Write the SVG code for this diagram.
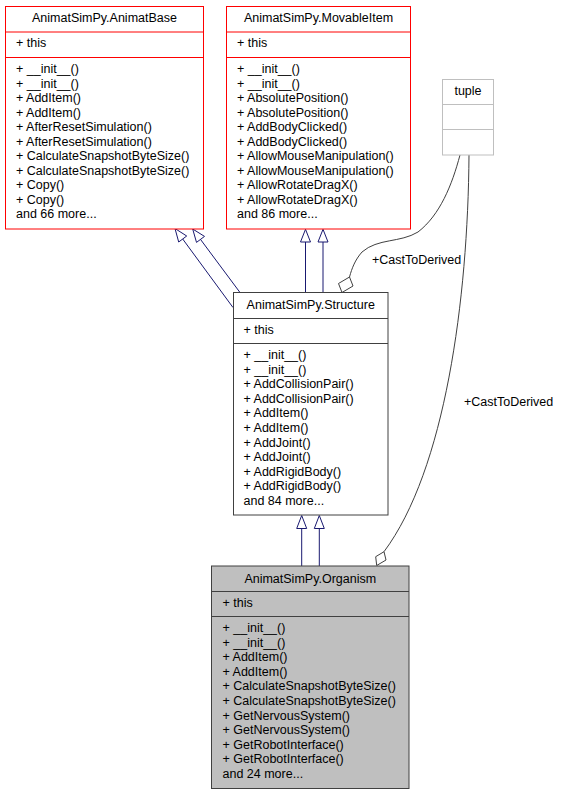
<svg xmlns="http://www.w3.org/2000/svg" width="561" height="795" viewBox="0 0 561 795">
<style>
text{font-family:"Liberation Sans",Arial,sans-serif;font-size:12.5px;fill:#000}
.t{text-anchor:middle}
.red{fill:#fff;stroke:#ff0000;stroke-width:1}
.dk{fill:#fff;stroke:#404040;stroke-width:1}
.cur{fill:#bfbfbf;stroke:#404040;stroke-width:1}
.gr{fill:#fff;stroke:#bfbfbf;stroke-width:1}
.inh{fill:none;stroke:#191970;stroke-width:1}
.ah{fill:#fff;stroke:#191970;stroke-width:1}
.agg{fill:none;stroke:#404040;stroke-width:1}
.dia{fill:#fff;stroke:#404040;stroke-width:1}
</style>
<rect width="561" height="795" fill="#fff"/>
<g id="connectors">
<path class="inh" d="M233,307.5L182.7,239"/>
<polygon class="ah" points="175,228.5 178.7,242 186.7,236"/>
<path class="inh" d="M240,292.5L200.5,239.4"/>
<polygon class="ah" points="192.7,229 196.5,242.4 204.5,236.4"/>
<path class="inh" d="M305.5,292.5V242"/>
<polygon class="ah" points="305.5,229.3 300.5,242 310.5,242"/>
<path class="inh" d="M323,292.5V242"/>
<polygon class="ah" points="323,229.3 318,242 328,242"/>
<path class="inh" d="M301.7,566V528.5"/>
<polygon class="ah" points="301.7,515.5 296.7,528.5 306.7,528.5"/>
<path class="inh" d="M319.3,566V528.5"/>
<polygon class="ah" points="319.3,515.5 314.3,528.5 324.3,528.5"/>
<path class="agg" d="M460,155C452,185 440,215 418,232C400,243 378,238 362,252C355,260 352,268 349.5,277"/>
<polygon class="dia" points="342,292.5 338.5,283.5 349.5,277 353,286"/>
<text x="372" y="263.5">+CastToDerived</text>
<path class="agg" d="M469,155C468,300 445,470 384,551.7"/>
<polygon class="dia" points="376.7,565.5 375.7,556.7 384,551.7 386,560"/>
<text x="464" y="406">+CastToDerived</text>
</g>
<g id="AnimatBase">
<rect class="red" x="5.5" y="6.5" width="198" height="222.5"/>
<path class="red" d="M5.5,32H203.5M5.5,57.5H203.5"/>
<text class="t" x="104.5" y="22">AnimatSimPy.AnimatBase</text>
<text x="16" y="47">+ this</text>
<text x="16" y="73">+ __init__()</text>
<text x="16" y="87.5">+ __init__()</text>
<text x="16" y="102">+ AddItem()</text>
<text x="16" y="116.5">+ AddItem()</text>
<text x="16" y="131">+ AfterResetSimulation()</text>
<text x="16" y="145.5">+ AfterResetSimulation()</text>
<text x="16" y="160">+ CalculateSnapshotByteSize()</text>
<text x="16" y="174.5">+ CalculateSnapshotByteSize()</text>
<text x="16" y="189">+ Copy()</text>
<text x="16" y="203.5">+ Copy()</text>
<text x="16" y="218">and 66 more...</text>
</g>
<g id="MovableItem">
<rect class="red" x="226.5" y="6.5" width="184" height="222.5"/>
<path class="red" d="M226.5,32H410.5M226.5,57.5H410.5"/>
<text class="t" x="318.5" y="22">AnimatSimPy.MovableItem</text>
<text x="237" y="47">+ this</text>
<text x="237" y="73">+ __init__()</text>
<text x="237" y="87.5">+ __init__()</text>
<text x="237" y="102">+ AbsolutePosition()</text>
<text x="237" y="116.5">+ AbsolutePosition()</text>
<text x="237" y="131">+ AddBodyClicked()</text>
<text x="237" y="145.5">+ AddBodyClicked()</text>
<text x="237" y="160">+ AllowMouseManipulation()</text>
<text x="237" y="174.5">+ AllowMouseManipulation()</text>
<text x="237" y="189">+ AllowRotateDragX()</text>
<text x="237" y="203.5">+ AllowRotateDragX()</text>
<text x="237" y="218">and 86 more...</text>
</g>
<g id="tuple">
<rect class="gr" x="442.5" y="79.5" width="51" height="75.5"/>
<path class="gr" d="M442.5,104.5H493.5M442.5,129.5H493.5"/>
<text class="t" x="468" y="95">tuple</text>
</g>
<g id="Structure">
<rect class="dk" x="233.5" y="292.5" width="154.5" height="222.5"/>
<path class="dk" d="M233.5,318.5H388M233.5,343.5H388"/>
<text class="t" x="310.75" y="309">AnimatSimPy.Structure</text>
<text x="243.5" y="333.5">+ this</text>
<text x="243.5" y="359">+ __init__()</text>
<text x="243.5" y="373.6">+ __init__()</text>
<text x="243.5" y="388.2">+ AddCollisionPair()</text>
<text x="243.5" y="402.8">+ AddCollisionPair()</text>
<text x="243.5" y="417.4">+ AddItem()</text>
<text x="243.5" y="432">+ AddItem()</text>
<text x="243.5" y="446.6">+ AddJoint()</text>
<text x="243.5" y="461.2">+ AddJoint()</text>
<text x="243.5" y="475.8">+ AddRigidBody()</text>
<text x="243.5" y="490.4">+ AddRigidBody()</text>
<text x="243.5" y="505">and 84 more...</text>
</g>
<g id="Organism">
<rect class="cur" x="211.5" y="566" width="197.5" height="222.5"/>
<path class="cur" d="M211.5,591.5H409M211.5,616.5H409"/>
<text class="t" x="310.25" y="583">AnimatSimPy.Organism</text>
<text x="222.5" y="606.5">+ this</text>
<text x="222.5" y="632">+ __init__()</text>
<text x="222.5" y="646.6">+ __init__()</text>
<text x="222.5" y="661.2">+ AddItem()</text>
<text x="222.5" y="675.8">+ AddItem()</text>
<text x="222.5" y="690.4">+ CalculateSnapshotByteSize()</text>
<text x="222.5" y="705">+ CalculateSnapshotByteSize()</text>
<text x="222.5" y="719.6">+ GetNervousSystem()</text>
<text x="222.5" y="734.2">+ GetNervousSystem()</text>
<text x="222.5" y="748.8">+ GetRobotInterface()</text>
<text x="222.5" y="763.4">+ GetRobotInterface()</text>
<text x="222.5" y="778">and 24 more...</text>
</g>
</svg>
